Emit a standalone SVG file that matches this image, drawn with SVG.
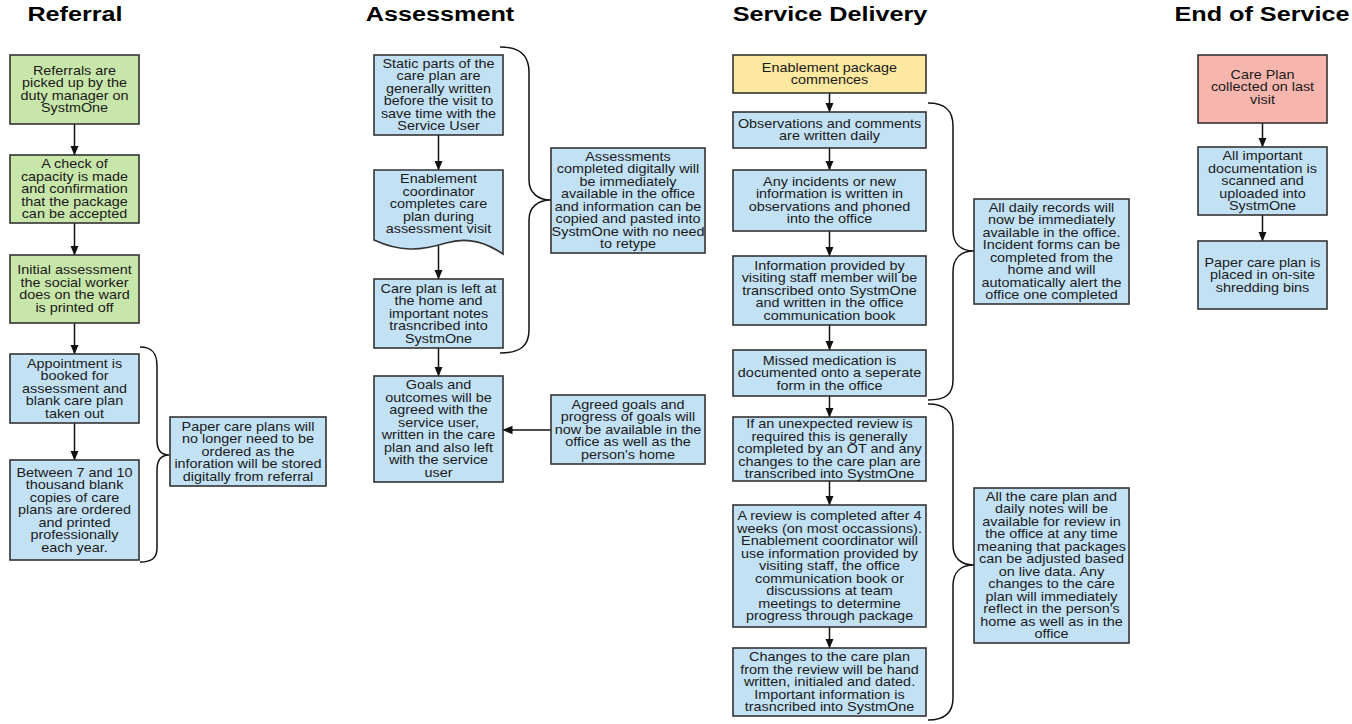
<svg xmlns="http://www.w3.org/2000/svg" width="1352" height="724" viewBox="0 0 1352 724">
<style>
.bg{fill:#ffffff}
.box{stroke:#333333;stroke-width:1.6}
.blue{fill:#c2e1f5}
.green{fill:#c8e6a9}
.yellow{fill:#fde8a0}
.pink{fill:#f7b6ad}
.t{font-family:"Liberation Sans",Arial,sans-serif;font-size:12px;fill:#1a1a1a;text-anchor:middle}
.h{font-family:"Liberation Sans",Arial,sans-serif;font-size:21px;font-weight:bold;fill:#000;text-anchor:middle}
.c{stroke:#111;stroke-width:1.5;fill:none}
.arr{marker-end:url(#ah)}
</style>
<defs>
<marker id="ah" markerUnits="userSpaceOnUse" markerWidth="10" markerHeight="10" refX="9.5" refY="5" orient="auto">
<path d="M0,0.8 L10,5 L0,9.2 Z" fill="#111"/>
</marker>
</defs>
<rect class="bg" x="0" y="0" width="1352" height="724"/>

<g id="titles">
<text class="h" transform="translate(75 0) scale(1.2 1)" x="0" y="21.5">Referral</text>
<text class="h" transform="translate(440 0) scale(1.2 1)" x="0" y="21.5">Assessment</text>
<text class="h" transform="translate(830 0) scale(1.2 1)" x="0" y="21.5">Service Delivery</text>
<text class="h" transform="translate(1262 0) scale(1.2 1)" x="0" y="21.5">End of Service</text>
</g>

<g id="connectors">
<line class="c arr" x1="74.5" y1="124" x2="74.5" y2="155"/>
<line class="c arr" x1="74.5" y1="223" x2="74.5" y2="255"/>
<line class="c arr" x1="74.5" y1="323" x2="74.5" y2="354"/>
<line class="c arr" x1="74.5" y1="423" x2="74.5" y2="460"/>
<line class="c arr" x1="438.5" y1="135" x2="438.5" y2="170"/>
<line class="c arr" x1="438.5" y1="246" x2="438.5" y2="279"/>
<line class="c arr" x1="438.5" y1="348" x2="438.5" y2="376"/>
<line class="c arr" x1="551" y1="430" x2="503" y2="430"/>
<line class="c arr" x1="829.5" y1="93" x2="829.5" y2="112"/>
<line class="c arr" x1="829.5" y1="148" x2="829.5" y2="170"/>
<line class="c arr" x1="829.5" y1="231" x2="829.5" y2="256"/>
<line class="c arr" x1="829.5" y1="325" x2="829.5" y2="350"/>
<line class="c arr" x1="829.5" y1="396" x2="829.5" y2="417"/>
<line class="c arr" x1="829.5" y1="481" x2="829.5" y2="505"/>
<line class="c arr" x1="829.5" y1="627" x2="829.5" y2="648"/>
<line class="c arr" x1="1262.5" y1="123" x2="1262.5" y2="147"/>
<line class="c arr" x1="1262.5" y1="215" x2="1262.5" y2="241"/>
<path class="c" d="M140,347 C152,347 157,353 157,366 V440 C157,450 161,455 169,455 C161,455 157,460 157,470 V548 C157,558 152,562 140,562"/>
<path class="c" d="M500,47 C520,47 529,55 529,72 V180 C529,193 538,200 551,200 C538,200 529,207 529,220 V330 C529,346 520,353 500,353"/>
<path class="c" d="M928,103 C946,103 953,111 953,126 V230 C953,244 961,251 974,251 C961,251 953,258 953,272 V380 C953,394 946,400 928,400"/>
<path class="c" d="M928,404 C946,404 953,412 953,427 V545 C953,558 961,565 974,565 C961,565 953,572 953,586 V698 C953,712 946,720 928,720"/>
</g>

<g id="ref1"><rect class="box green" x="10" y="55" width="129" height="69"/>
<text class="t" transform="translate(74.5 0) scale(1.2 1)"><tspan x="0" y="75">Referrals are</tspan><tspan x="0" y="87.5">picked up by the</tspan><tspan x="0" y="100">duty manager on</tspan><tspan x="0" y="112.5">SystmOne</tspan></text></g>
<g id="ref2"><rect class="box green" x="10" y="155" width="129" height="68"/>
<text class="t" transform="translate(74.5 0) scale(1.2 1)"><tspan x="0" y="168.3">A check of</tspan><tspan x="0" y="180.8">capacity is made</tspan><tspan x="0" y="193.3">and confirmation</tspan><tspan x="0" y="205.8">that the package</tspan><tspan x="0" y="218.3">can be accepted</tspan></text></g>
<g id="ref3"><rect class="box green" x="10" y="255" width="129" height="68"/>
<text class="t" transform="translate(74.5 0) scale(1.2 1)"><tspan x="0" y="274.5">Initial assessment</tspan><tspan x="0" y="287">the social worker</tspan><tspan x="0" y="299.5">does on the ward</tspan><tspan x="0" y="312">is printed off</tspan></text></g>
<g id="ref4"><rect class="box blue" x="10" y="354" width="129" height="69"/>
<text class="t" transform="translate(74.5 0) scale(1.2 1)"><tspan x="0" y="367.8">Appointment is</tspan><tspan x="0" y="380.3">booked for</tspan><tspan x="0" y="392.8">assessment and</tspan><tspan x="0" y="405.3">blank care plan</tspan><tspan x="0" y="417.8">taken out</tspan></text></g>
<g id="ref5"><rect class="box blue" x="10" y="460" width="129" height="100"/>
<text class="t" transform="translate(74.5 0) scale(1.2 1)"><tspan x="0" y="476.8">Between 7 and 10</tspan><tspan x="0" y="489.3">thousand blank</tspan><tspan x="0" y="501.8">copies of care</tspan><tspan x="0" y="514.3">plans are ordered</tspan><tspan x="0" y="526.8">and printed</tspan><tspan x="0" y="539.3">professionally</tspan><tspan x="0" y="551.8">each year.</tspan></text></g>
<g id="refnote"><rect class="box blue" x="170" y="417" width="156" height="69"/>
<text class="t" transform="translate(248 0) scale(1.2 1)"><tspan x="0" y="430.8">Paper care plans will</tspan><tspan x="0" y="443.3">no longer need to be</tspan><tspan x="0" y="455.8">ordered as the</tspan><tspan x="0" y="468.3">inforation will be stored</tspan><tspan x="0" y="480.8">digitally from referral</tspan></text></g>

<g id="ass1"><rect class="box blue" x="374" y="55" width="129" height="80"/>
<text class="t" transform="translate(438.5 0) scale(1.2 1)"><tspan x="0" y="68">Static parts of the</tspan><tspan x="0" y="80.5">care plan are</tspan><tspan x="0" y="93">generally written</tspan><tspan x="0" y="105.5">before the visit to</tspan><tspan x="0" y="118">save time with the</tspan><tspan x="0" y="130.5">Service User</tspan></text></g>
<g id="ass2"><path class="box blue" d="M374,170 H503 V254 C488,244 470,236 446,243 C420,251 400,252 374,240 Z"/>
<text class="t" transform="translate(438.5 0) scale(1.2 1)"><tspan x="0" y="183.3">Enablement</tspan><tspan x="0" y="195.8">coordinator</tspan><tspan x="0" y="208.3">completes care</tspan><tspan x="0" y="220.8">plan during</tspan><tspan x="0" y="233.3">assessment visit</tspan></text></g>
<g id="ass3"><rect class="box blue" x="374" y="279" width="129" height="69"/>
<text class="t" transform="translate(438.5 0) scale(1.2 1)"><tspan x="0" y="292.8">Care plan is left at</tspan><tspan x="0" y="305.3">the home and</tspan><tspan x="0" y="317.8">important notes</tspan><tspan x="0" y="330.3">trasncribed into</tspan><tspan x="0" y="342.8">SystmOne</tspan></text></g>
<g id="ass4"><rect class="box blue" x="374" y="376" width="129" height="106"/>
<text class="t" transform="translate(438.5 0) scale(1.2 1)"><tspan x="0" y="389.5">Goals and</tspan><tspan x="0" y="402">outcomes will be</tspan><tspan x="0" y="414.5">agreed with the</tspan><tspan x="0" y="427">service user,</tspan><tspan x="0" y="439.5">written in the care</tspan><tspan x="0" y="452">plan and also left</tspan><tspan x="0" y="464.5">with the service</tspan><tspan x="0" y="477">user</tspan></text></g>
<g id="assnote1"><rect class="box blue" x="551" y="148" width="154" height="105"/>
<text class="t" transform="translate(628 0) scale(1.2 1)"><tspan x="0" y="161">Assessments</tspan><tspan x="0" y="173.5">completed digitally will</tspan><tspan x="0" y="186">be immediately</tspan><tspan x="0" y="198.5">available in the office</tspan><tspan x="0" y="211">and information can be</tspan><tspan x="0" y="223.5">copied and pasted into</tspan><tspan x="0" y="236">SystmOne with no need</tspan><tspan x="0" y="248.5">to retype</tspan></text></g>
<g id="assnote2"><rect class="box blue" x="551" y="395" width="154" height="69"/>
<text class="t" transform="translate(628 0) scale(1.2 1)"><tspan x="0" y="408.8">Agreed goals and</tspan><tspan x="0" y="421.3">progress of goals will</tspan><tspan x="0" y="433.8">now be available in the</tspan><tspan x="0" y="446.3">office as well as the</tspan><tspan x="0" y="458.8">person's home</tspan></text></g>

<g id="sd0"><rect class="box yellow" x="733" y="55" width="193" height="38"/>
<text class="t" transform="translate(829.5 0) scale(1.2 1)"><tspan x="0" y="72">Enablement package</tspan><tspan x="0" y="84.5">commences</tspan></text></g>
<g id="sd1"><rect class="box blue" x="733" y="112" width="193" height="36"/>
<text class="t" transform="translate(829.5 0) scale(1.2 1)"><tspan x="0" y="128">Observations and comments</tspan><tspan x="0" y="140.5">are written daily</tspan></text></g>
<g id="sd2"><rect class="box blue" x="733" y="170" width="193" height="61"/>
<text class="t" transform="translate(829.5 0) scale(1.2 1)"><tspan x="0" y="186">Any incidents or new</tspan><tspan x="0" y="198.5">information is written in</tspan><tspan x="0" y="211">observations and phoned</tspan><tspan x="0" y="223.5">into the office</tspan></text></g>
<g id="sd3"><rect class="box blue" x="733" y="256" width="193" height="69"/>
<text class="t" transform="translate(829.5 0) scale(1.2 1)"><tspan x="0" y="269.8">Information provided by</tspan><tspan x="0" y="282.3">visiting staff member will be</tspan><tspan x="0" y="294.8">transcribed onto SystmOne</tspan><tspan x="0" y="307.3">and written in the office</tspan><tspan x="0" y="319.8">communication book</tspan></text></g>
<g id="sd4"><rect class="box blue" x="733" y="350" width="193" height="46"/>
<text class="t" transform="translate(829.5 0) scale(1.2 1)"><tspan x="0" y="364.8">Missed medication is</tspan><tspan x="0" y="377.3">documented onto a seperate</tspan><tspan x="0" y="389.8">form in the office</tspan></text></g>
<g id="sd5"><rect class="box blue" x="733" y="417" width="193" height="64"/>
<text class="t" transform="translate(829.5 0) scale(1.2 1)"><tspan x="0" y="428.3">If an unexpected review is</tspan><tspan x="0" y="440.8">required this is generally</tspan><tspan x="0" y="453.3">completed by an OT and any</tspan><tspan x="0" y="465.8">changes to the care plan are</tspan><tspan x="0" y="478.3">transcribed into SystmOne</tspan></text></g>
<g id="sd6"><rect class="box blue" x="733" y="505" width="193" height="122"/>
<text class="t" transform="translate(829.5 0) scale(1.2 1)"><tspan x="0" y="520.3">A review is completed after 4</tspan><tspan x="0" y="532.8">weeks (on most occassions).</tspan><tspan x="0" y="545.3">Enablement coordinator will</tspan><tspan x="0" y="557.8">use information provided by</tspan><tspan x="0" y="570.3">visiting staff, the office</tspan><tspan x="0" y="582.8">communication book or</tspan><tspan x="0" y="595.3">discussions at team</tspan><tspan x="0" y="607.8">meetings to determine</tspan><tspan x="0" y="620.3">progress through package</tspan></text></g>
<g id="sd7"><rect class="box blue" x="733" y="648" width="193" height="68"/>
<text class="t" transform="translate(829.5 0) scale(1.2 1)"><tspan x="0" y="661.3">Changes to the care plan</tspan><tspan x="0" y="673.8">from the review will be hand</tspan><tspan x="0" y="686.3">written, initialed and dated.</tspan><tspan x="0" y="698.8">Important information is</tspan><tspan x="0" y="711.3">trasncribed into SystmOne</tspan></text></g>
<g id="sdnote1"><rect class="box blue" x="974" y="199" width="155" height="105"/>
<text class="t" transform="translate(1051.5 0) scale(1.2 1)"><tspan x="0" y="212">All daily records will</tspan><tspan x="0" y="224.5">now be immediately</tspan><tspan x="0" y="237">available in the office.</tspan><tspan x="0" y="249.5">Incident forms can be</tspan><tspan x="0" y="262">completed from the</tspan><tspan x="0" y="274.5">home and will</tspan><tspan x="0" y="287">automatically alert the</tspan><tspan x="0" y="299.5">office one completed</tspan></text></g>
<g id="sdnote2"><rect class="box blue" x="974" y="488" width="155" height="155"/>
<text class="t" transform="translate(1051.5 0) scale(1.2 1)"><tspan x="0" y="501">All the care plan and</tspan><tspan x="0" y="513.5">daily notes will be</tspan><tspan x="0" y="526">available for review in</tspan><tspan x="0" y="538.5">the office at any time</tspan><tspan x="0" y="551">meaning that packages</tspan><tspan x="0" y="563.5">can be adjusted based</tspan><tspan x="0" y="576">on live data. Any</tspan><tspan x="0" y="588.5">changes to the care</tspan><tspan x="0" y="601">plan will immediately</tspan><tspan x="0" y="613.5">reflect in the person's</tspan><tspan x="0" y="626">home as well as in the</tspan><tspan x="0" y="638.5">office</tspan></text></g>

<g id="end1"><rect class="box pink" x="1198" y="55" width="129" height="68"/>
<text class="t" transform="translate(1262.5 0) scale(1.2 1)"><tspan x="0" y="79">Care Plan</tspan><tspan x="0" y="91.5">collected on last</tspan><tspan x="0" y="104">visit</tspan></text></g>
<g id="end2"><rect class="box blue" x="1198" y="147" width="129" height="68"/>
<text class="t" transform="translate(1262.5 0) scale(1.2 1)"><tspan x="0" y="160.3">All important</tspan><tspan x="0" y="172.8">documentation is</tspan><tspan x="0" y="185.3">scanned and</tspan><tspan x="0" y="197.8">uploaded into</tspan><tspan x="0" y="210.3">SystmOne</tspan></text></g>
<g id="end3"><rect class="box blue" x="1198" y="241" width="129" height="68"/>
<text class="t" transform="translate(1262.5 0) scale(1.2 1)"><tspan x="0" y="266.8">Paper care plan is</tspan><tspan x="0" y="279.3">placed in on-site</tspan><tspan x="0" y="291.8">shredding bins</tspan></text></g>
</svg>
